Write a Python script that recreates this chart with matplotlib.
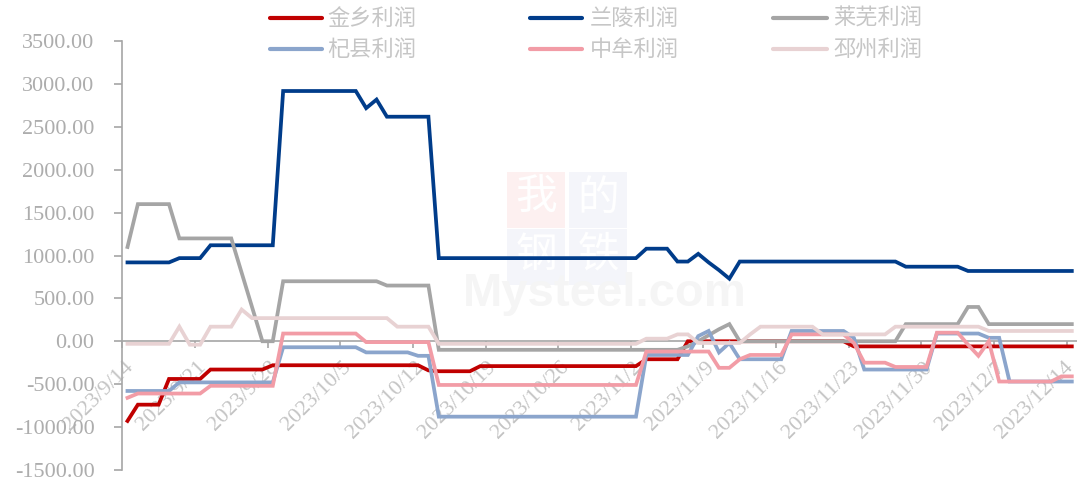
import matplotlib
matplotlib.use('Agg')
import matplotlib.pyplot as plt
from matplotlib.lines import Line2D
from matplotlib.patches import Rectangle
import matplotlib.transforms as mtransforms
import numpy as np

# ---------------- data (daily, 2023/9/14 .. 2023/12/14) ----------------
tick_labels = ['2023/9/14', '2023/9/21', '2023/9/28', '2023/10/5', '2023/10/12',
               '2023/10/19', '2023/10/26', '2023/11/2', '2023/11/9', '2023/11/16',
               '2023/11/23', '2023/11/30', '2023/12/7', '2023/12/14']

jinxiang = ([-930] + [-740]*3 + [-440]*4 + [-330]*6 + [-280]*15 + [-340] + [-350]*4 +
            [-290]*16 + [-210]*4 + [0]*16 + [-60]*22)
lanling = ([920]*5 + [970]*3 + [1120]*7 + [2920]*8 + [2720, 2820] + [2620]*5 +
           [970]*20 + [1080]*3 + [930]*2 + [1020, 920, 830, 730] + [930]*16 +
           [870]*6 + [820]*11)
laiwu = ([1100] + [1600]*4 + [1200]*6 + [800, 400] + [0]*2 + [700]*10 + [650]*5 +
         [-100]*24 + [-60, 0, 70, 140, 200] + [0]*16 + [200]*6 + [400]*2 + [200]*9)
qixian = ([-580]*5 + [-480]*10 + [-70]*8 + [-130]*5 + [-170]*2 + [-880]*20 +
          [-160]*5 + [60, 120, -130, -20] + [-210]*5 + [120]*6 + [40] + [-330]*7 +
          [90]*5 + [40]*2 + [-470]*7)
zhongmou = ([-660] + [-610]*7 + [-520]*7 + [90]*8 + [-10]*7 + [-510]*20 + [-120]*7 +
            [-310]*2 + [-210] + [-160]*4 + [80]*6 + [-20] + [-250]*3 + [-300]*4 +
            [100]*3 + [-40, -170, 0] + [-470]*6 + [-410]*2)
pizhou = ([-30]*5 + [170] + [-40]*2 + [170]*3 + [370] + [270]*14 + [170]*4 +
          [-30]*20 + [30]*3 + [80]*2 + [-20]*5 + [80] + [170]*6 + [80]*7 +
          [170]*9 + [120]*9)

series_names = ['金乡利润', '兰陵利润', '莱芜利润', '杞县利润', '中牟利润', '邳州利润']
series_values = [jinxiang, lanling, laiwu, qixian, zhongmou, pizhou]
colors = ['#C00000', '#003C8A', '#A5A5A5', '#8BA5CC', '#F29CA6', '#E8D2D3']

# ---------------- figure ----------------
W_PX, H_PX = 1077, 483
fig = plt.figure(figsize=(W_PX / 100, H_PX / 100), dpi=100)
L = 122.3 / W_PX
B = 1 - 469.8 / H_PX
H = (469.8 - 41.3) / H_PX
ax = fig.add_axes([L, B, 1 - L, H])
ax.patch.set_visible(False)

serif = 'Liberation Serif'
cjk = ['Noto Sans CJK SC', 'DejaVu Sans']
axis_gray = '#A6A6A6'

n = len(jinxiang)
x = np.arange(n) + 0.5
for vals, c, name in zip(series_values, colors, series_names):
    ax.plot(x, vals, color=c, lw=2.7, solid_joinstyle='miter', label=name, zorder=3)

ax.set_xlim(0, 92)
ax.set_ylim(-1500, 3500)

for s in ['top', 'right']:
    ax.spines[s].set_visible(False)
ax.spines['left'].set_color(axis_gray)
ax.spines['left'].set_linewidth(1.2)
ax.spines['bottom'].set_position(('data', 0))
ax.spines['bottom'].set_color(axis_gray)
ax.spines['bottom'].set_linewidth(1.2)
ax.spines['bottom'].set_zorder(2)

yt = np.arange(-1500, 3501, 500)
ax.set_yticks(yt)
ax.set_yticklabels([f'{v:.2f}' for v in yt], fontfamily=serif, fontsize=16, color='#ADADAD')
ax.tick_params(axis='y', direction='out', length=6, width=1.2, color=axis_gray, pad=14)

ax.set_xticks(np.arange(0, 92, 7))
ax.set_xticklabels(tick_labels, fontfamily=serif, fontsize=16, color='#C4C4C4',
                   rotation=45, ha='right', va='top', rotation_mode='anchor')
ax.tick_params(axis='x', direction='out', length=5, width=1.2, color=axis_gray, pad=7)
xlabels = ax.get_xticklabels()
for i, lbl in enumerate(xlabels):
    dx = 1.5 if i < len(xlabels) - 1 else -3.5
    lbl.set_transform(lbl.get_transform() +
                      mtransforms.ScaledTranslation(dx / 100, 0, fig.dpi_scale_trans))

# ---------------- legend (two rows x three columns) ----------------
leg_cols = [(270, 322, 327), (530, 582, 590), (773, 827, 833)]
leg_rows = [18, 49]
order = [[0, 1, 2], [3, 4, 5]]
for r, row in enumerate(order):
    for cidx, si in enumerate(row):
        x0, x1, xt = leg_cols[cidx]
        yy = 1 - leg_rows[r] / H_PX
        fig.add_artist(Line2D([x0 / W_PX, x1 / W_PX], [yy, yy], transform=fig.transFigure,
                              color=colors[si], lw=3.0, solid_capstyle='round'))
        fig.text(xt / W_PX, yy, series_names[si], family=cjk, fontsize=16,
                 fontweight='light', color='#C6C6C6', ha='left', va='center')

# ---------------- faint watermark ----------------
boxes = [('我', 507, 172, '#FDF0F0'), ('的', 569, 172, '#F4F5FA'),
         ('钢', 507, 229, '#F4F5FA'), ('铁', 569, 229, '#F4F5FA')]
for ch, bx, by, bc in boxes:
    fig.add_artist(Rectangle((bx / W_PX, 1 - (by + 56) / H_PX), 58 / W_PX, 56 / H_PX,
                             transform=fig.transFigure, facecolor=bc, edgecolor='none',
                             zorder=-2))
    fig.text((bx + 29) / W_PX, 1 - (by + 26) / H_PX, ch, family=cjk, fontsize=30,
             color='white', ha='center', va='center', zorder=-1)
fig.text(605 / W_PX, 1 - 294 / H_PX, 'Mysteel.com', family='Liberation Sans',
         fontsize=34, fontweight='bold', color='#F5F5F5', ha='center', va='center',
         zorder=-1)

fig.savefig('out.png', dpi=100)
